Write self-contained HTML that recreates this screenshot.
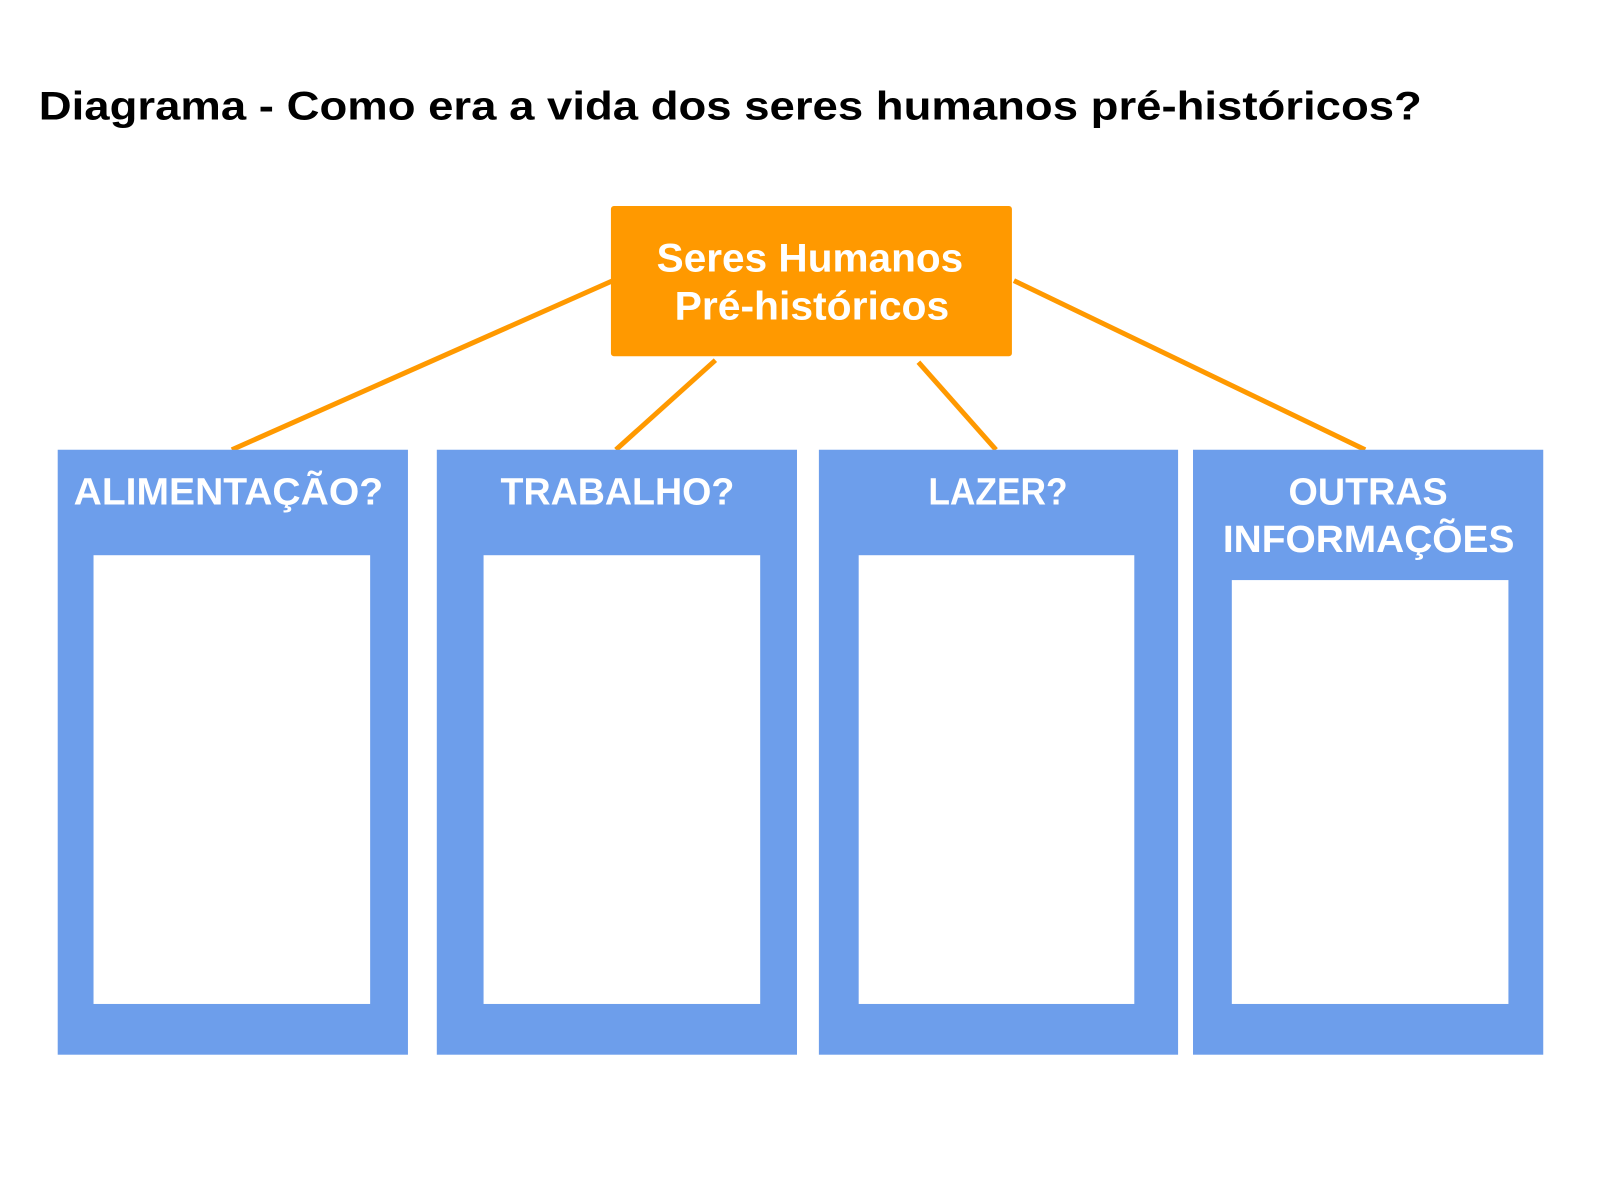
<!DOCTYPE html>
<html><head><meta charset="utf-8"><style>html,body{margin:0;padding:0;background:#fff}svg{display:block}</style></head>
<body>
<svg width="1600" height="1200" viewBox="0 0 1600 1200" xmlns="http://www.w3.org/2000/svg">
<rect width="1600" height="1200" fill="#fff"/>
<g transform="scale(0.995)">
<text x="39" y="120" font-family="Liberation Sans, sans-serif" font-weight="bold" font-size="40" fill="#000" textLength="1390" lengthAdjust="spacingAndGlyphs">Diagrama - Como era a vida dos seres humanos pré-históricos?</text>
<g stroke="#FF9900" stroke-width="5" fill="none">
<line x1="616" y1="282" x2="233" y2="452"/>
<line x1="719" y1="362" x2="619" y2="452"/>
<line x1="923" y1="364" x2="1001" y2="452"/>
<line x1="1019" y1="282" x2="1372" y2="452"/>
</g>
<rect x="614" y="207" width="403" height="151" rx="3" fill="#FF9900"/>
<g font-family="Liberation Sans, sans-serif" font-weight="bold" fill="#fff" font-size="40">
<text x="660" y="273" textLength="308" lengthAdjust="spacingAndGlyphs">Seres Humanos</text>
<text x="678" y="321" textLength="276" lengthAdjust="spacingAndGlyphs">Pré-históricos</text>
</g>
<g fill="#6D9EEB">
<rect x="58" y="452" width="352" height="608"/>
<rect x="439" y="452" width="362" height="608"/>
<rect x="823" y="452" width="361" height="608"/>
<rect x="1199" y="452" width="352" height="608"/>
</g>
<g fill="#fff">
<rect x="94" y="558" width="278" height="451"/>
<rect x="486" y="558" width="278" height="451"/>
<rect x="863" y="558" width="277" height="451"/>
<rect x="1238" y="583" width="278" height="426"/>
</g>
<g font-family="Liberation Sans, sans-serif" font-weight="bold" fill="#fff" font-size="38">
<text x="74" y="507" textLength="311" lengthAdjust="spacingAndGlyphs">ALIMENTAÇÃO?</text>
<text x="503" y="507" textLength="235" lengthAdjust="spacingAndGlyphs">TRABALHO?</text>
<text x="933" y="507" textLength="140" lengthAdjust="spacingAndGlyphs">LAZER?</text>
<text x="1295" y="507" textLength="160" lengthAdjust="spacingAndGlyphs">OUTRAS</text>
<text x="1229" y="555" textLength="293" lengthAdjust="spacingAndGlyphs">INFORMAÇÕES</text>
</g>
</g>
</svg>
</body></html>
